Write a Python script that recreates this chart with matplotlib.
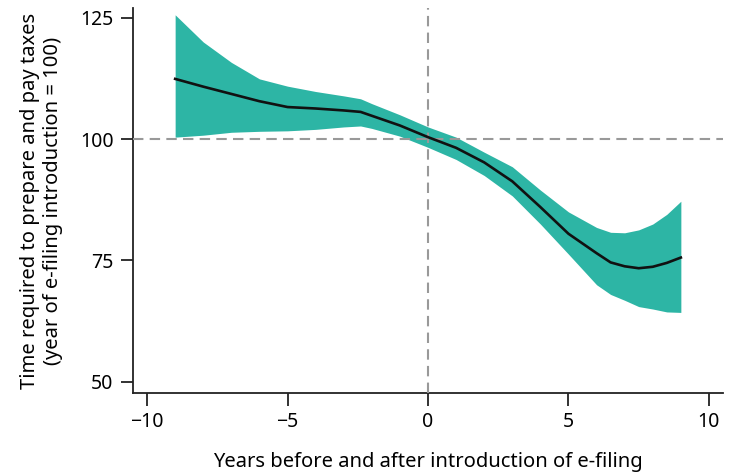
import matplotlib.pyplot as plt

plt.rcParams['font.family'] = ['Noto Sans', 'DejaVu Sans']

years = [-9, -8, -7, -6, -5, -4, -3, -2.4, -2, -1, 0, 1, 2, 3, 4, 5, 6, 6.5, 7, 7.5, 8, 8.5, 9]
estimate = [112.4, 110.8, 109.3, 107.8, 106.6, 106.3, 105.9, 105.6, 104.8, 102.8, 100.4,
            98.2, 95.2, 91.3, 86.0, 80.5, 76.5, 74.6, 73.8, 73.4, 73.7, 74.5, 75.6]
upper = [125.6, 120.0, 115.8, 112.4, 110.9, 109.8, 108.9, 108.3, 107.3, 105.0, 102.5,
         100.4, 97.3, 94.3, 89.5, 85.0, 81.8, 80.8, 80.7, 81.3, 82.5, 84.5, 87.2]
lower = [100.4, 100.8, 101.4, 101.6, 101.7, 102.0, 102.5, 102.7, 102.2, 100.6, 98.3,
         95.8, 92.5, 88.3, 82.5, 76.3, 70.0, 68.0, 66.8, 65.5, 65.0, 64.4, 64.3]

xticks = [-10, -5, 0, 5, 10]
yticks = [50, 75, 100, 125]

fig = plt.figure(figsize=(7.32, 4.73), dpi=100)
ax = fig.add_axes([0.1817, 0.1691, 0.806, 0.814])

ax.fill_between(years, lower, upper, color='#2db5a5', linewidth=0, zorder=2)
ax.axhline(100, color='#999999', linestyle=(0, (5, 3)), linewidth=1.5, zorder=3)
ax.axvline(0, color='#999999', linestyle=(0, (5, 3)), linewidth=1.5, zorder=3)
ax.plot(years, estimate, color='#111111', linewidth=1.9, zorder=4)

ax.set_xlim(-10.5, 10.5)
ax.set_ylim(47.7, 127)
ax.set_xticks(xticks)
ax.set_yticks(yticks)

for s in ['top', 'right']:
    ax.spines[s].set_visible(False)
for s in ['left', 'bottom']:
    ax.spines[s].set_linewidth(1.3)
    ax.spines[s].set_color('#222222')
ax.tick_params(length=9, width=1.3, color='#222222', labelsize=14, pad=5)

ax.set_xlabel('Years before and after introduction of e-filing', fontsize=14.5, labelpad=14)
ax.set_ylabel('Time required to prepare and pay taxes\n(year of e-filing introduction = 100)',
              fontsize=14.5, labelpad=12, linespacing=1.2)

fig.savefig('out.png', dpi=100)
